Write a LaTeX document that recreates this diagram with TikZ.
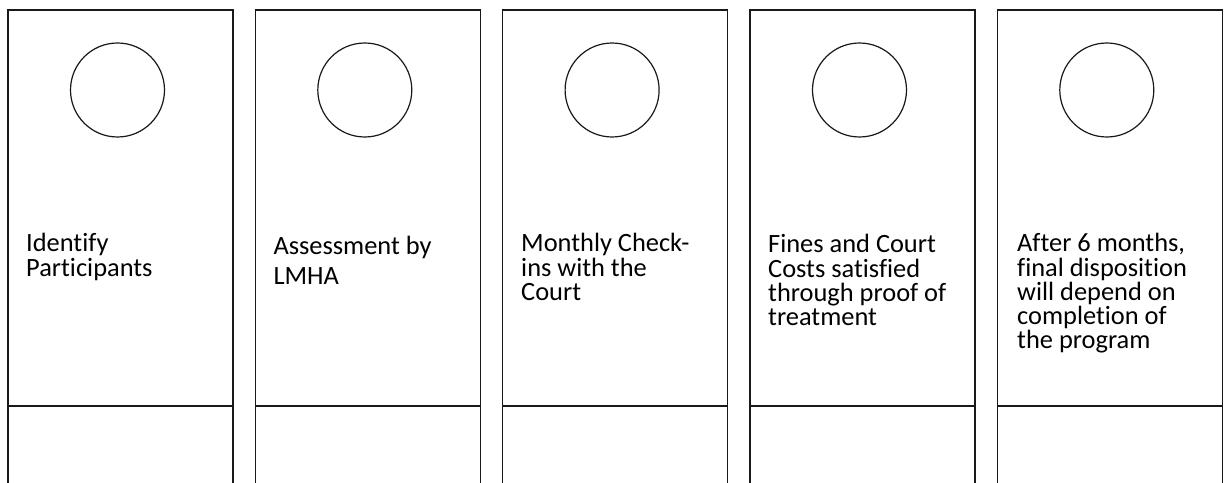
\documentclass[tikz,border=0pt]{standalone}
\usepackage{fontspec}
\setmainfont[RawFeature={-liga;-dlig}]{Carlito}
\begin{document}
\begin{tikzpicture}[x=1bp,y=-1bp,
  panel/.style={draw=black!90, line width=1.2bp},
  hole/.style={circle, draw=black!90, line width=1.2bp, minimum size=94bp, inner sep=0pt},
  label/.style={anchor=base west, inner sep=0pt}]
\useasboundingbox (0,0) rectangle (1224,483);
\foreach \i/\x in {1/8, 2/255.3, 3/502.6, 4/750, 5/997.3} {
  \coordinate (bl\i) at (\x,485);
  \coordinate (tl\i) at (\x,10);
  \coordinate (tr\i) at (\x+225,10);
  \coordinate (br\i) at (\x+225,485);
  \coordinate (ml\i) at (\x,406);
  \coordinate (mr\i) at (\x+225,406);
  \draw[panel] (bl\i) -- (tl\i) -- (tr\i) -- (br\i);
  \draw[panel] (ml\i) -- (mr\i);
  \node[hole] (c\i) at (\x+109.5,90) {};
}
\node[label] (t1) at (26,252) {\parbox[t]{210bp}{\fontsize{26.5}{24.2}\selectfont Identify\\Participants}};
\node[label] (t2) at (273.3,255) {\parbox[t]{210bp}{\fontsize{26.5}{30}\selectfont Assessment by\\LMHA}};
\node[label] (t3) at (521,252) {\parbox[t]{210bp}{\fontsize{26.5}{24.3}\selectfont Monthly Check-\\ins with the\\Court}};
\node[label] (t4) at (768,253) {\parbox[t]{210bp}{\fontsize{26.5}{24.2}\selectfont Fines and Court\\Costs satisfied\\through proof of\\treatment}};
\node[label] (t5) at (1017,252) {\parbox[t]{210bp}{\fontsize{26.5}{24.2}\selectfont After 6 months,\\final disposition\\will depend on\\completion of\\the program}};
\end{tikzpicture}
\end{document}
